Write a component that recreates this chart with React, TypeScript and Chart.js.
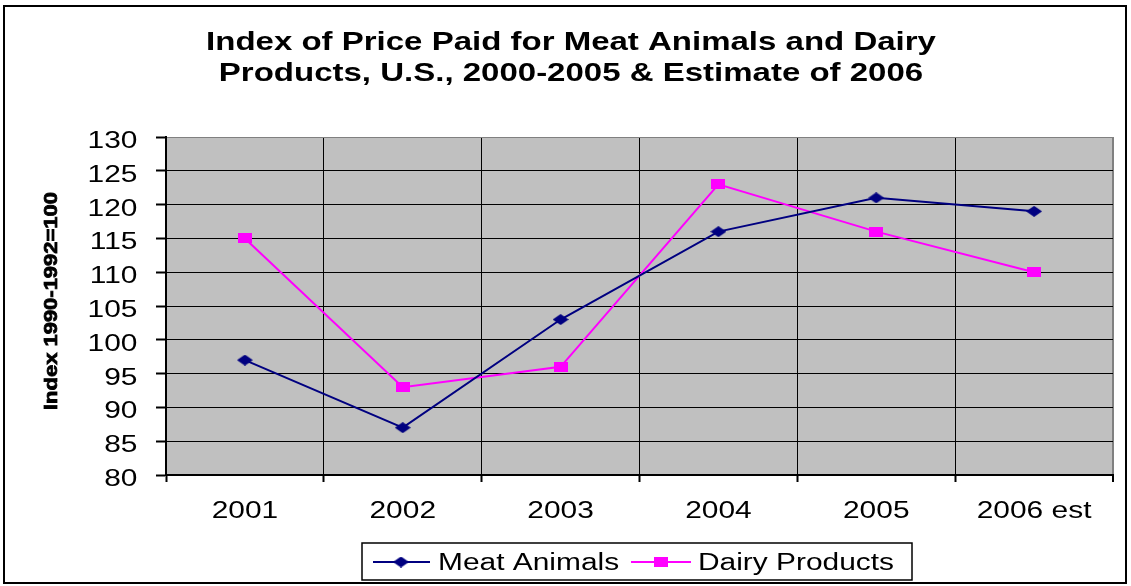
import React, { useEffect, useRef } from "react";
import { Chart, registerables } from "chart.js";

Chart.register(...registerables);

const categories = ["2001", "2002", "2003", "2004", "2005", "2006 est"];
const meatAnimals = [97, 87, 103, 116, 121, 119];
const dairyProducts = [115, 93, 96, 123, 116, 110];
const yTicks = [80, 85, 90, 95, 100, 105, 110, 115, 120, 125, 130];
const titleLines = [
  "Index of Price Paid for Meat Animals and Dairy",
  "Products, U.S., 2000-2005 & Estimate of 2006",
];
const yTitle = "Index 1990-1992=100";
const seriesNames = ["Meat Animals", "Dairy Products"];

const MEAT_COLOR = "#000080";
const DAIRY_COLOR = "#FF00FF";
const FONT = '"Liberation Sans", Arial, sans-serif';
const SX = 1.3;

function makeDiamond(color: string) {
  const c = document.createElement("canvas");
  c.width = 16;
  c.height = 11;
  const g = c.getContext("2d")!;
  g.fillStyle = color;
  g.beginPath();
  g.moveTo(0, 5.5);
  g.lineTo(8, 0);
  g.lineTo(16, 5.5);
  g.lineTo(8, 11);
  g.closePath();
  g.fill();
  return c;
}

function makeSquare(color: string) {
  const c = document.createElement("canvas");
  c.width = 14;
  c.height = 10;
  const g = c.getContext("2d")!;
  g.fillStyle = color;
  g.fillRect(0, 0, 14, 10);
  return c;
}

function stretchText(
  ctx: CanvasRenderingContext2D,
  text: string,
  x: number,
  y: number,
  align: CanvasTextAlign,
  sx: number
) {
  ctx.save();
  ctx.translate(x, y);
  ctx.scale(sx, 1);
  ctx.textAlign = align;
  ctx.textBaseline = "alphabetic";
  ctx.fillText(text, 0, 0);
  ctx.restore();
}

export default function App() {
  const ref = useRef<HTMLCanvasElement | null>(null);

  useEffect(() => {
    const canvas = ref.current;
    if (!canvas) return;
    const diamond = makeDiamond(MEAT_COLOR);
    const square = makeSquare(DAIRY_COLOR);

    const bgPlugin = {
      id: "bg",
      beforeDraw(chart: any) {
        const { ctx, chartArea } = chart;
        ctx.save();
        ctx.fillStyle = "#ffffff";
        ctx.fillRect(0, 0, chart.width, chart.height);
        ctx.fillStyle = "#C0C0C0";
        ctx.fillRect(
          chartArea.left,
          chartArea.top,
          chartArea.right - chartArea.left,
          chartArea.bottom - chartArea.top
        );
        ctx.restore();
      },
    };

    const textPlugin = {
      id: "texts",
      afterDraw(chart: any) {
        const { ctx } = chart;
        const xs = chart.scales.x;
        const ys = chart.scales.y;
        ctx.save();
        ctx.fillStyle = "#000";

        // Title
        ctx.font = `bold 25px ${FONT}`;
        stretchText(ctx, titleLines[0], 571, 50, "center", 1.32);
        stretchText(ctx, titleLines[1], 571, 81, "center", 1.32);

        // Y tick labels
        ctx.font = `23px ${FONT}`;
        yTicks.forEach((v) => {
          const py = ys.getPixelForValue(v);
          stretchText(ctx, String(v), 137.5, py + 11, "right", SX);
        });

        // X tick labels
        categories.forEach((c, i) => {
          const px = xs.getPixelForValue(i);
          stretchText(ctx, c, px, 518, "center", SX);
        });

        // Y axis title (condensed, heavy)
        ctx.font = `bold 21px ${FONT}`;
        const w = ctx.measureText(yTitle).width;
        ctx.save();
        ctx.translate(50.5, 301);
        ctx.rotate(-Math.PI / 2);
        ctx.scale(218 / w, 13 / (0.716 * 21));
        ctx.textAlign = "center";
        ctx.textBaseline = "alphabetic";
        ctx.fillText(yTitle, 0, 7.5);
        ctx.lineWidth = 0.9;
        ctx.strokeStyle = "#000";
        ctx.strokeText(yTitle, 0, 7.5);
        ctx.restore();

        // Legend
        ctx.strokeStyle = "#000";
        ctx.lineWidth = 1.5;
        ctx.strokeRect(362, 543, 550, 37);
        const ly = 562;
        ctx.lineWidth = 2;
        ctx.strokeStyle = MEAT_COLOR;
        ctx.beginPath();
        ctx.moveTo(373, ly);
        ctx.lineTo(430, ly);
        ctx.stroke();
        ctx.drawImage(diamond, 401 - diamond.width / 2, ly - diamond.height / 2);
        ctx.strokeStyle = DAIRY_COLOR;
        ctx.beginPath();
        ctx.moveTo(631, ly);
        ctx.lineTo(691, ly);
        ctx.stroke();
        ctx.drawImage(square, 661 - square.width / 2, ly - square.height / 2);
        ctx.fillStyle = "#000";
        ctx.font = `23px ${FONT}`;
        stretchText(ctx, seriesNames[0], 438, 570, "left", SX);
        stretchText(ctx, seriesNames[1], 698, 570, "left", SX);

        // Outer border
        ctx.strokeStyle = "#000";
        ctx.lineWidth = 2;
        ctx.strokeRect(4, 6, 1122, 577);
        ctx.restore();
      },
    };

    const chart = new Chart(canvas, {
      type: "line",
      data: {
        labels: categories,
        datasets: [
          {
            label: seriesNames[0],
            data: meatAnimals,
            borderColor: MEAT_COLOR,
            backgroundColor: MEAT_COLOR,
            borderWidth: 2,
            pointStyle: diamond as any,
            pointRadius: 5,
            tension: 0,
          },
          {
            label: seriesNames[1],
            data: dairyProducts,
            borderColor: DAIRY_COLOR,
            backgroundColor: DAIRY_COLOR,
            borderWidth: 2,
            pointStyle: square as any,
            pointRadius: 5,
            tension: 0,
          },
        ],
      },
      options: {
        responsive: false,
        animation: false,
        devicePixelRatio: 1,
        layout: { padding: { left: 0, top: 137, right: 18, bottom: 0 } },
        plugins: {
          legend: { display: false },
          title: { display: false },
          tooltip: { enabled: false },
        },
        scales: {
          x: {
            type: "category",
            offset: true,
            grid: {
              offset: true,
              color: (c: any) => (c.type === "tick" ? "#000" : "#808080"),
              lineWidth: (c: any) => (c.type === "tick" ? 1 : 2),
              tickColor: "#000",
              tickLength: 7,
              tickWidth: 2,
            },
            border: { color: "#000", width: 2 },
            ticks: { display: false },
            afterFit: (s: any) => {
              s.height = 111;
            },
          },
          y: {
            min: 80,
            max: 130,
            ticks: { display: false, stepSize: 5 },
            grid: {
              color: (c: any) =>
                c.tick && c.tick.value === 130 ? "#808080" : "#000",
              lineWidth: 1,
              tickColor: "#000",
              tickLength: 10,
              tickWidth: 2,
            },
            border: { color: "#000", width: 2 },
            afterFit: (s: any) => {
              s.width = 166;
            },
          },
        },
      },
      plugins: [bgPlugin, textPlugin],
    });

    return () => {
      chart.destroy();
    };
  }, []);

  return (
    <div
      style={{
        position: "absolute",
        left: 0,
        top: 0,
        width: 1131,
        height: 586,
        background: "#fff",
      }}
    >
      <canvas ref={ref} width={1131} height={586} style={{ display: "block" }} />
    </div>
  );
}
